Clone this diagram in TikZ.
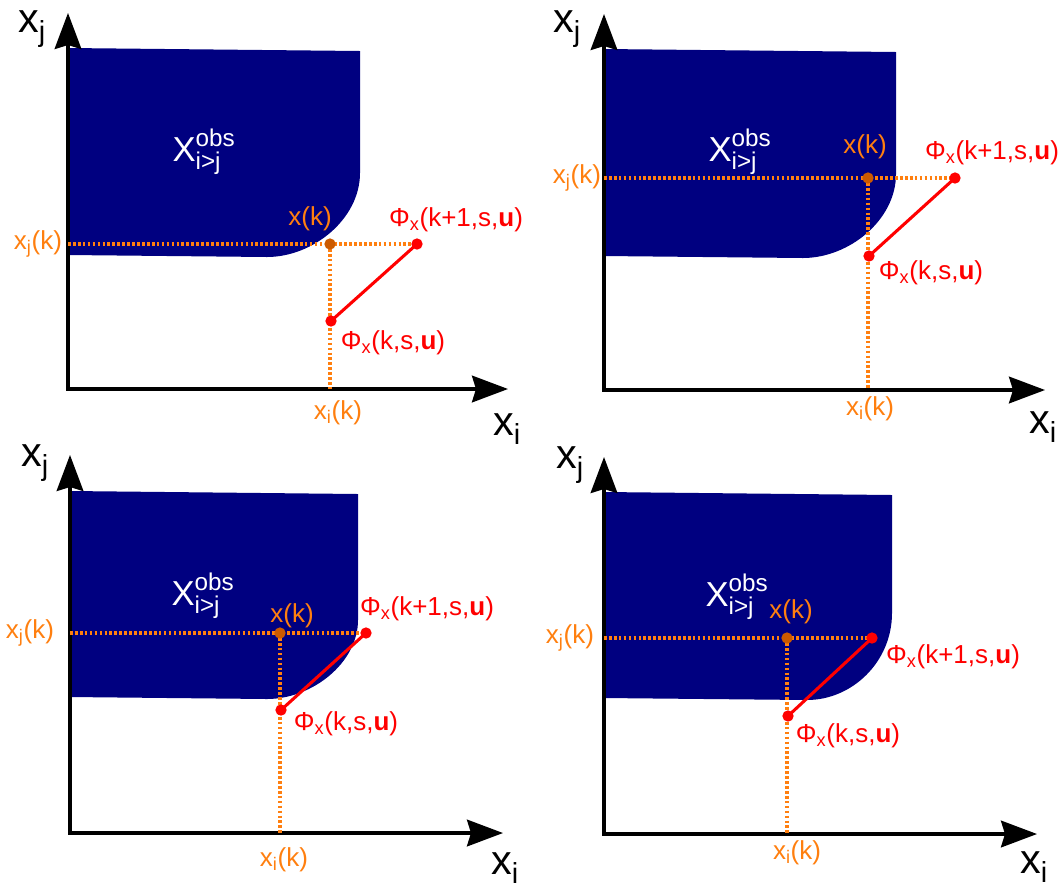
\documentclass[tikz,border=0pt]{standalone}
\usepackage{fontspec}
\setmainfont{Liberation Sans}
\usepackage{amsmath}
\definecolor{obsnavy}{HTML}{000080}
\definecolor{projorange}{HTML}{FF7F0F}
\definecolor{stateorange}{HTML}{CC5A00}
\definecolor{predred}{HTML}{FF0000}
\usetikzlibrary{positioning,arrows.meta}

\begin{document}
\begin{tikzpicture}[
  x=0.75pt, y=-0.75pt,
  axes/.style={{Stealth[length=27pt,width=20pt,inset=3pt]}-{Stealth[length=27pt,width=20pt,inset=3pt]},
               line width=2.4pt, line join=miter},
  obs/.style={fill=obsnavy, draw=none},
  proj/.style={projorange, line width=2.4pt, dash pattern=on 2pt off 1.7pt},
  pred/.style={predred, line width=2.3pt},
  statedot/.style={circle, fill=stateorange, inner sep=0pt, minimum size=8.5pt},
  preddot/.style={circle, fill=predred, inner sep=0pt, minimum size=8.5pt},
  lab/.style={inner sep=0pt, font=\fontsize{19.5}{22}\selectfont, text=projorange},
  plab/.style={inner sep=0pt, font=\fontsize{19.5}{22}\selectfont, text=predred},
  axlab/.style={inner sep=0pt, font=\fontsize{31}{36}\selectfont},
  obslab/.style={inner sep=0pt, font=\fontsize{26}{30}\selectfont, text=white},
]
\useasboundingbox (0,0) rectangle (1062,890);

% panel a: top left
\begin{scope}[shift={(68,389)}]
  \fill[obs] (0,-341) -- (292,-338) -- (292,-216) .. controls (292,-170) and (245,-132) .. (199,-132) -- (0,-134) -- cycle;
  \coordinate (aO) at (0,0);
  \coordinate (aYtip) at (0,-376);
  \coordinate (aXtip) at (440,0);
  \draw[axes] (aYtip) -- (aO) -- (aXtip);
  \coordinate (aK) at (262,-145);
  \coordinate (aK1) at (349,-145);
  \coordinate (aK0) at (263,-68);
  \coordinate (aJ) at (0,-145);
  \coordinate (aI) at (262,0);
  \draw[proj] (aJ) -- (aK1);
  \draw[proj] (aK) -- (aI);
  \draw[pred] (aK0) -- (aK1);
  \node[statedot] (aKdot) at (aK) {};
  \node[preddot] (aK1dot) at (aK1) {};
  \node[preddot] (aK0dot) at (aK0) {};
  \node[obslab] (aObs) at (136,-237) {$\text{X}^{\text{obs}}_{\text{i>j}}$};
  \node[lab] (aXjk) at (-30,-145) {$\text{x}_{\text{j}}$(k)};
  \node[lab] (aXk) at (242,-170) {x(k)};
  \node[lab] (aXik) at (270,24) {$\text{x}_{\text{i}}$(k)};
  \node[plab] (aPk1) at (388,-169) {$\text{Φ}_{\text{x}}$(k+1,s,\textbf{u})};
  \node[plab] (aPk0) at (325,-46) {$\text{Φ}_{\text{x}}$(k,s,\textbf{u})};
  \node[axlab] (aXj) at (-36,-360) {$\text{x}_{\text{j}}$};
  \node[axlab] (aXi) at (439,40) {$\text{x}_{\text{i}}$};
\end{scope}

% panel b: top right
\begin{scope}[shift={(604,390)}]
  \fill[obs] (0,-341) -- (292,-338) -- (292,-216) .. controls (292,-170) and (245,-132) .. (199,-132) -- (0,-134) -- cycle;
  \coordinate (bO) at (0,0);
  \coordinate (bYtip) at (0,-376);
  \coordinate (bXtip) at (441,0);
  \draw[axes] (bYtip) -- (bO) -- (bXtip);
  \coordinate (bK) at (264,-212);
  \coordinate (bK1) at (351,-212);
  \coordinate (bK0) at (265,-134);
  \coordinate (bJ) at (0,-212);
  \coordinate (bI) at (264,0);
  \draw[proj] (bJ) -- (bK1);
  \draw[proj] (bK) -- (bI);
  \draw[pred] (bK0) -- (bK1);
  \node[statedot] (bKdot) at (bK) {};
  \node[preddot] (bK1dot) at (bK1) {};
  \node[preddot] (bK0dot) at (bK0) {};
  \node[obslab] (bObs) at (136,-238) {$\text{X}^{\text{obs}}_{\text{i>j}}$};
  \node[lab] (bXjk) at (-27,-212) {$\text{x}_{\text{j}}$(k)};
  \node[lab] (bXk) at (261,-243) {x(k)};
  \node[lab] (bXik) at (266,19) {$\text{x}_{\text{i}}$(k)};
  \node[plab] (bPk1) at (388,-237) {$\text{Φ}_{\text{x}}$(k+1,s,\textbf{u})};
  \node[plab] (bPk0) at (327,-117) {$\text{Φ}_{\text{x}}$(k,s,\textbf{u})};
  \node[axlab] (bXj) at (-37,-361) {$\text{x}_{\text{j}}$};
  \node[axlab] (bXi) at (439,37) {$\text{x}_{\text{i}}$};
\end{scope}

% panel c: bottom left
\begin{scope}[shift={(70,833)}]
  \fill[obs] (0,-342) -- (288,-339) -- (288,-213) .. controls (288,-170) and (242,-134) .. (197,-134) -- (0,-136) -- cycle;
  \coordinate (cO) at (0,0);
  \coordinate (cYtip) at (0,-378);
  \coordinate (cXtip) at (433,0);
  \draw[axes] (cYtip) -- (cO) -- (cXtip);
  \coordinate (cK) at (210,-200);
  \coordinate (cK1) at (296,-200);
  \coordinate (cK0) at (211,-123);
  \coordinate (cJ) at (0,-200);
  \coordinate (cI) at (210,0);
  \draw[proj] (cJ) -- (cK1);
  \draw[proj] (cK) -- (cI);
  \draw[pred] (cK0) -- (cK1);
  \node[statedot] (cKdot) at (cK) {};
  \node[preddot] (cK1dot) at (cK1) {};
  \node[preddot] (cK0dot) at (cK0) {};
  \node[obslab] (cObs) at (133,-237) {$\text{X}^{\text{obs}}_{\text{i>j}}$};
  \node[lab] (cXjk) at (-40,-200) {$\text{x}_{\text{j}}$(k)};
  \node[lab] (cXk) at (222,-217) {x(k)};
  \node[lab] (cXik) at (214,27) {$\text{x}_{\text{i}}$(k)};
  \node[plab] (cPk1) at (357,-224) {$\text{Φ}_{\text{x}}$(k+1,s,\textbf{u})};
  \node[plab] (cPk0) at (276,-109) {$\text{Φ}_{\text{x}}$(k,s,\textbf{u})};
  \node[axlab] (cXj) at (-35,-370) {$\text{x}_{\text{j}}$};
  \node[axlab] (cXi) at (435,35) {$\text{x}_{\text{i}}$};
\end{scope}

% panel d: bottom right
\begin{scope}[shift={(604,834)}]
  \fill[obs] (0,-342) -- (288,-339) -- (288,-221) .. controls (288,-172) and (248,-134) .. (203,-134) -- (0,-136) -- cycle;
  \coordinate (dO) at (0,0);
  \coordinate (dYtip) at (0,-377);
  \coordinate (dXtip) at (433,0);
  \draw[axes] (dYtip) -- (dO) -- (dXtip);
  \coordinate (dK) at (183,-196);
  \coordinate (dK1) at (268,-196);
  \coordinate (dK0) at (184,-118);
  \coordinate (dJ) at (0,-196);
  \coordinate (dI) at (183,0);
  \draw[proj] (dJ) -- (dK1);
  \draw[proj] (dK) -- (dI);
  \draw[pred] (dK0) -- (dK1);
  \node[statedot] (dKdot) at (dK) {};
  \node[preddot] (dK1dot) at (dK1) {};
  \node[preddot] (dK0dot) at (dK0) {};
  \node[obslab] (dObs) at (133,-237) {$\text{X}^{\text{obs}}_{\text{i>j}}$};
  \node[lab] (dXjk) at (-34,-196) {$\text{x}_{\text{j}}$(k)};
  \node[lab] (dXk) at (187,-222) {x(k)};
  \node[lab] (dXik) at (193,19) {$\text{x}_{\text{i}}$(k)};
  \node[plab] (dPk1) at (349,-177) {$\text{Φ}_{\text{x}}$(k+1,s,\textbf{u})};
  \node[plab] (dPk0) at (244,-98) {$\text{Φ}_{\text{x}}$(k,s,\textbf{u})};
  \node[axlab] (dXj) at (-34,-369) {$\text{x}_{\text{j}}$};
  \node[axlab] (dXi) at (430,33) {$\text{x}_{\text{i}}$};
\end{scope}

\end{tikzpicture}
\end{document}
